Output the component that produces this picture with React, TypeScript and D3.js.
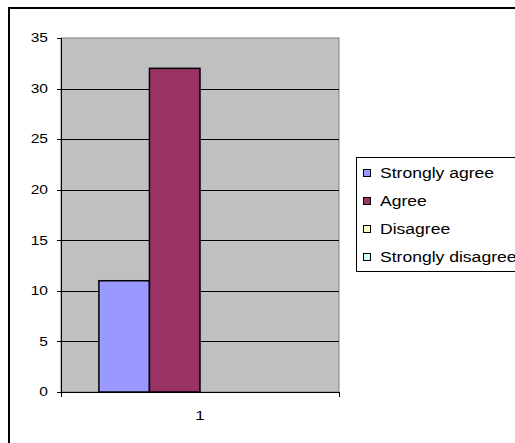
import React from "react";
import * as d3 from "d3";

const categories = ["1"];
const seriesNames = ["Strongly agree", "Agree", "Disagree", "Strongly disagree"];
const seriesValues = [[11], [32], [0], [0]];
const seriesColors = ["#9999FF", "#993366", "#FFFFCC", "#CCFFFF"];
const yTicks = [0, 5, 10, 15, 20, 25, 30, 35];

export default function App() {
  const W = 515, H = 443;
  const left = 61, right = 339, top = 38, bottom = 392;
  const y = d3.scaleLinear().domain([0, 35]).range([bottom, top]);
  const x = d3.scaleBand().domain(categories).range([left, right]).paddingInner(0).paddingOuter(0.1875);
  const xs = d3.scaleBand().domain(seriesNames).range([0, x.bandwidth()]).padding(0);
  const font = "Liberation Sans, Arial, sans-serif";
  return (
    <svg width={W} height={H} style={{ position: "absolute", left: 0, top: 0 }} fontFamily={font}>
      <rect x={0} y={0} width={W} height={H} fill="#fff" />
      <rect x={9} y={8} width={W + 10} height={H + 10} fill="#fff" stroke="#000" strokeWidth={2} />
      <text x={200} y={-3} textAnchor="middle" fontSize={15} fontWeight="bold">Rating</text>
      <rect x={left} y={top} width={right - left} height={bottom - top} fill="#C0C0C0" stroke="#808080" strokeWidth={1} />
      {yTicks.filter(t => t > 0 && t < 35).map(t => (
        <line key={t} x1={left} x2={right} y1={Math.round(y(t)) + 0.5} y2={Math.round(y(t)) + 0.5} stroke="#000" strokeWidth={1} />
      ))}
      {categories.map((c, ci) =>
        seriesNames.map((s, si) => {
          const v = seriesValues[si][ci];
          if (!v) return null;
          const bx = (x(c) ?? 0) + (xs(s) ?? 0);
          return (
            <rect key={s} x={bx} y={y(v)} width={xs.bandwidth()} height={y(0) - y(v)}
              fill={seriesColors[si]} stroke="#000" strokeWidth={1.5} />
          );
        })
      )}
      <line x1={left + 0.5} x2={left + 0.5} y1={top} y2={bottom} stroke="#000" />
      <line x1={left} x2={right} y1={bottom + 0.5} y2={bottom + 0.5} stroke="#000" />
      {yTicks.map(t => (
        <g key={t}>
          <line x1={57} x2={left} y1={Math.round(y(t)) + 0.5} y2={Math.round(y(t)) + 0.5} stroke="#000" />
          <text transform={`translate(48, ${y(t)}) scale(1.3, 1)`} dy="0.36em" textAnchor="end" fontSize={12}>{t}</text>
        </g>
      ))}
      {[left, right].map(px => (
        <line key={px} x1={px + 0.5} x2={px + 0.5} y1={bottom} y2={bottom + 5} stroke="#000" />
      ))}
      {categories.map(c => (
        <text key={c} transform={`translate(${(x(c) ?? 0) + x.bandwidth() / 2}, 420) scale(1.3, 1)`} textAnchor="middle" fontSize={13}>{c}</text>
      ))}
      <rect x={356.5} y={157.5} width={170} height={114} fill="#fff" stroke="#000" strokeWidth={1} />
      {seriesNames.map((s, i) => (
        <g key={s} transform={`translate(0, ${173 + i * 28})`}>
          <rect x={363.5} y={-3.5} width={7} height={7} fill={seriesColors[i]} stroke="#000" strokeWidth={1} />
          <text transform="translate(380, 0) scale(1.17, 1)" dy="0.36em" fontSize={15}>{s}</text>
        </g>
      ))}
    </svg>
  );
}
